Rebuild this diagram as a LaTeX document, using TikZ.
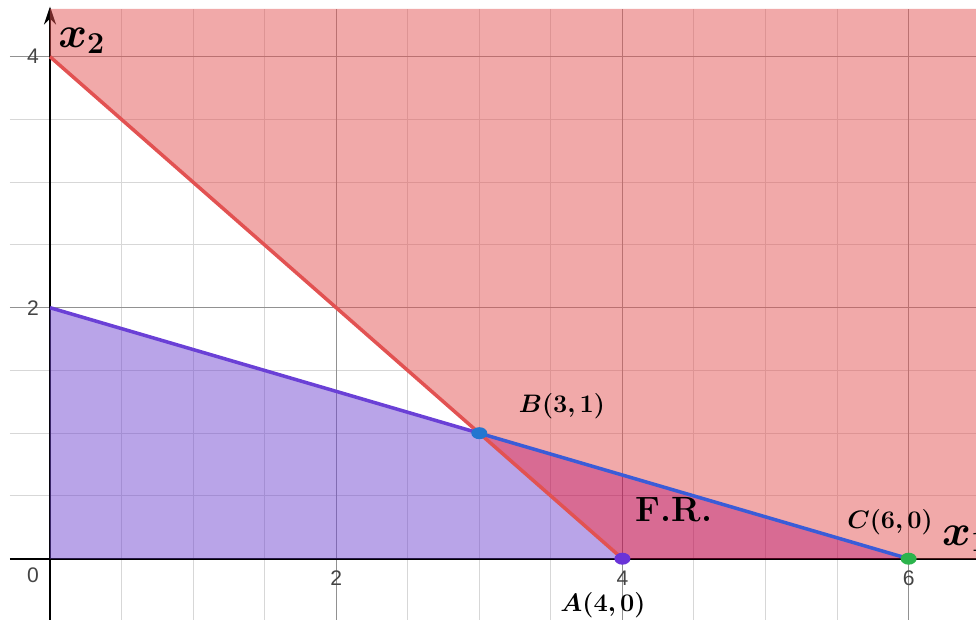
\documentclass[tikz,border=0pt]{standalone}
\usepackage{fontspec}
\usepackage{amsmath,bm}
\newfontfamily\ticksf{Liberation Sans}
\usepackage{xcolor}
\usepackage{tikz}
\usetikzlibrary{arrows.meta,positioning}
\definecolor{gridlight}{RGB}{215,215,215}
\definecolor{griddark}{RGB}{145,145,145}
\definecolor{redfill}{RGB}{227,83,83}
\definecolor{purplefill}{RGB}{115,73,209}
\definecolor{overlapfill}{RGB}{190,8,75}
\definecolor{redline}{RGB}{226,82,82}
\definecolor{purpleline}{RGB}{106,64,214}
\definecolor{blueline}{RGB}{58,92,216}
\definecolor{dotA}{RGB}{106,52,216}
\definecolor{dotB}{RGB}{36,118,208}
\definecolor{dotC}{RGB}{44,180,76}
\definecolor{tickgray}{RGB}{68,68,68}

\begin{document}
\begin{tikzpicture}[
    x=2.862cm,y=2.51cm,
    minor/.style={draw=gridlight,line width=0.6pt},
    major/.style={draw=griddark,line width=0.7pt},
    axisline/.style={draw=black,line width=1.2pt},
    bound/.style={line width=2pt},
    pt/.style={x radius=0.16cm,y radius=0.12cm},
    lbl/.style={font=\fontsize{15}{17}\selectfont,inner sep=0pt},
    axlbl/.style={font=\fontsize{25}{27}\selectfont,inner sep=0pt,anchor=base west},
    fr/.style={font=\fontsize{20}{22}\selectfont\bfseries,inner sep=0pt},
    tick/.style={font=\ticksf\fontsize{12}{14}\selectfont,text=tickgray,inner sep=0pt}
]
\clip (-0.3494,-0.4884) rectangle (6.4710,4.4518);

% grid
\foreach \i in {1,...,12} \draw[minor] (\i/2,-0.49) -- (\i/2,4.38);
\foreach \j in {1,...,8} \draw[minor] (-0.28,\j/2) -- (6.48,\j/2);
\foreach \i in {2,4,6} \draw[major] (\i,-0.49) -- (\i,4.38);
\foreach \j in {2,4} \draw[major] (-0.28,\j) -- (6.48,\j);

\coordinate (O) at (0,0);
\coordinate (P) at (0,2);
\coordinate (Q) at (0,4);
\coordinate (B) at (3,1);
\coordinate (A) at (4,0);
\coordinate (C) at (6,0);
\coordinate (TL) at (0,4.38);
\coordinate (TR) at (6.48,4.38);
\coordinate (BR) at (6.48,0);
\coordinate (xl) at (-0.28,0);
\coordinate (yb) at (0,-0.49);
\coordinate (yt) at (0,4.40);

% axes
\draw[axisline] (xl) -- (BR);
\draw[axisline,-{Stealth[length=0.36cm,width=0.24cm]}] (yb) -- (yt);

% regions
\fill[redfill,fill opacity=0.5] (Q) -- (TL) -- (TR) -- (BR) -- (C) -- (B) -- cycle;
\fill[purplefill,fill opacity=0.5] (O) -- (P) -- (B) -- (A) -- cycle;
\fill[overlapfill,fill opacity=0.6] (B) -- (C) -- (A) -- cycle;

% constraint lines
\draw[bound,redline] (Q) -- (A);
\draw[bound,purpleline] (P) -- (B);
\draw[bound,blueline] (B) -- (C);

% corner points
\fill[dotA] (A) ellipse[pt];
\fill[dotB] (B) ellipse[pt];
\fill[dotC] (C) ellipse[pt];

\node[lbl] (labB) at (3.578,1.217) {$\bm{B(3,1)}$};
\node[lbl] (labA) at (3.864,-0.370) {$\bm{A(4,0)}$};
\node[lbl] (labC) at (5.870,0.292) {$\bm{C(6,0)}$};
\node[fr] (fr) at (4.361,0.388) {F.R.};
\node[axlbl] (x2) at (0.056,4.077) {$\bm{x_2}$};
\node[axlbl] (x1) at (6.232,0.109) {$\bm{x_1}$};

% tick labels
\node[tick] (t0) at (-0.119,-0.131) {0};
\foreach \i in {2,4,6} \node[tick] (tx\i) at (\i,-0.154) {\i};
\foreach \j in {2,4} \node[tick] (ty\j) at (-0.119,\j) {\j};
\end{tikzpicture}
\end{document}
